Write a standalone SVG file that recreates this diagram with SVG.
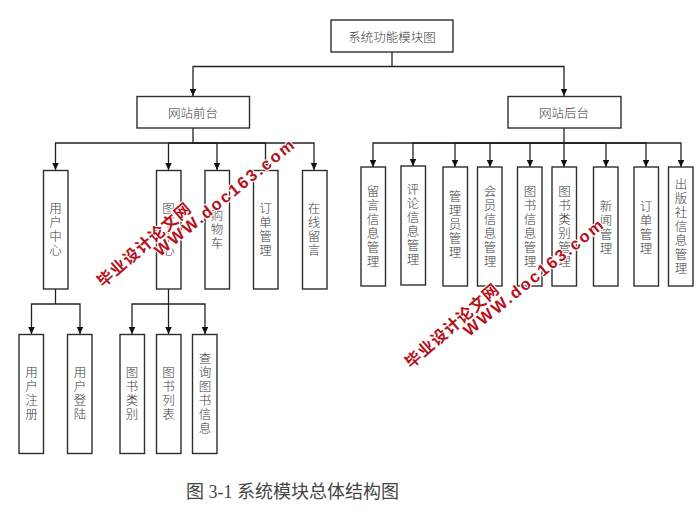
<svg xmlns="http://www.w3.org/2000/svg" width="700" height="512" viewBox="0 0 700 512">
<style>
.b{fill:#fff;stroke:#2e2e2e;stroke-width:1.4}
.t{font-family:"Noto Sans CJK SC","Noto Sans CJK JP",sans-serif;font-size:12.5px;fill:#3a3a3a;text-anchor:middle;font-weight:300}
.v{writing-mode:vertical-rl;letter-spacing:1.5px}
.h{dominant-baseline:central}
.c{fill:none;stroke:#222;stroke-width:1.3}
.cap{font-family:"Liberation Serif","Noto Sans CJK SC",serif;font-size:18px;fill:#444}
.w1,.w2{font-family:"Liberation Sans","Noto Sans CJK SC",sans-serif;font-weight:700;fill:#b3121c;stroke:#fff;stroke-width:2.2;paint-order:stroke;stroke-linejoin:round}
.w1{font-size:16px;letter-spacing:1px}
.w2{font-size:16.5px;letter-spacing:2.2px}
</style>
<defs>
<marker id="a" markerUnits="userSpaceOnUse" markerWidth="8" markerHeight="7" refX="7" refY="3.25" orient="auto"><path d="M0 0L7 3.25L0 6.500Z" fill="#111"/></marker>
</defs>
<g id="connectors">
<path class="c" d="M392 52V66.5"/>
<path class="c" marker-end="url(#a)" d="M392 66.5H193V96"/>
<path class="c" marker-end="url(#a)" d="M392 66.5H564V96"/>
<path class="c" d="M193 128V143"/>
<path class="c" marker-end="url(#a)" d="M193 143H55.5V170"/>
<path class="c" marker-end="url(#a)" d="M193 143H168.5V170"/>
<path class="c" marker-end="url(#a)" d="M193 143H217V170"/>
<path class="c" marker-end="url(#a)" d="M193 143H265.5V170"/>
<path class="c" marker-end="url(#a)" d="M193 143H314V170"/>
<path class="c" d="M55.5 289V304"/>
<path class="c" marker-end="url(#a)" d="M55.5 304H31.5V334"/>
<path class="c" marker-end="url(#a)" d="M55.5 304H80V334"/>
<path class="c" marker-end="url(#a)" d="M168.5 289V334"/>
<path class="c" marker-end="url(#a)" d="M168.5 304H132V334"/>
<path class="c" marker-end="url(#a)" d="M168.5 304H205V334"/>
<path class="c" d="M564 128V143"/>
<path class="c" marker-end="url(#a)" d="M564 143H373V167"/>
<path class="c" marker-end="url(#a)" d="M564 143H413V166"/>
<path class="c" marker-end="url(#a)" d="M564 143H455V167"/>
<path class="c" marker-end="url(#a)" d="M564 143H490V167"/>
<path class="c" marker-end="url(#a)" d="M564 143H530V167"/>
<path class="c" marker-end="url(#a)" d="M564 143V167"/>
<path class="c" marker-end="url(#a)" d="M564 143H606V167"/>
<path class="c" marker-end="url(#a)" d="M564 143H646V167"/>
<path class="c" marker-end="url(#a)" d="M564 143H681V167"/>
</g>
<g id="root"><rect class="b" x="331" y="20" width="122" height="32"/><text class="t h" x="392" y="36">系统功能模块图</text></g>
<g id="front"><rect class="b" x="137" y="96.5" width="112.500" height="31.500"/><text class="t h" x="193" y="112">网站前台</text></g>
<g id="back"><rect class="b" x="508" y="96.500" width="113" height="31.500"/><text class="t h" x="564" y="112">网站后台</text></g>
<g id="n1"><rect class="b" x="43.500" y="170.500" width="24.500" height="118.500"/><text class="t v" x="55.500" y="230">用户中心</text></g>
<g id="n2"><rect class="b" x="156.500" y="170.500" width="24.500" height="118.500"/><text class="t v" x="168.500" y="230">图书中心</text></g>
<g id="n3"><rect class="b" x="205" y="170.500" width="24.500" height="118.500"/><text class="t v" x="217" y="230">购物车</text></g>
<g id="n4"><rect class="b" x="253.500" y="170.500" width="24.500" height="118.500"/><text class="t v" x="265.500" y="230">订单管理</text></g>
<g id="n5"><rect class="b" x="302.500" y="170.500" width="24.500" height="118.500"/><text class="t v" x="314" y="230">在线留言</text></g>
<g id="n6"><rect class="b" x="19" y="334.500" width="24.500" height="119"/><text class="t v" x="31.500" y="394">用户注册</text></g>
<g id="n7"><rect class="b" x="67.500" y="334.500" width="24.500" height="119"/><text class="t v" x="80" y="394">用户登陆</text></g>
<g id="n8"><rect class="b" x="120" y="334.500" width="24.500" height="119"/><text class="t v" x="132" y="394">图书类别</text></g>
<g id="n9"><rect class="b" x="156.500" y="334.500" width="24.500" height="119"/><text class="t v" x="168.500" y="394">图书列表</text></g>
<g id="n10"><rect class="b" x="192.500" y="334.500" width="24.500" height="119"/><text class="t v" x="205" y="394">查询图书信息</text></g>
<g id="m1"><rect class="b" x="361" y="167" width="24.500" height="119"/><text class="t v" x="373" y="226.500">留言信息管理</text></g>
<g id="m2"><rect class="b" x="401" y="166" width="24.500" height="119"/><text class="t v" x="413" y="225">评论信息管理</text></g>
<g id="m3"><rect class="b" x="443" y="167" width="24.500" height="119"/><text class="t v" x="455" y="225">管理员管理</text></g>
<g id="m4"><rect class="b" x="477.500" y="167" width="24.500" height="119"/><text class="t v" x="490" y="226.500">会员信息管理</text></g>
<g id="m5"><rect class="b" x="517.500" y="167" width="24.500" height="119"/><text class="t v" x="530" y="226.500">图书信息管理</text></g>
<g id="m6"><rect class="b" x="552" y="167" width="24.500" height="119"/><text class="t v" x="564.500" y="226.500">图书类别管理</text></g>
<g id="m7"><rect class="b" x="593.500" y="167" width="24.500" height="119"/><text class="t v" x="606" y="228">新闻管理</text></g>
<g id="m8"><rect class="b" x="634" y="167" width="24.500" height="119"/><text class="t v" x="646" y="228">订单管理</text></g>
<g id="m9"><rect class="b" x="668.500" y="167" width="24.500" height="119"/><text class="t v" x="681" y="226.500">出版社信息管理</text></g>
<text class="cap" x="186" y="497.500">图 3-1 系统模块总体结构图</text>
<g id="watermark">
<text class="w1" transform="translate(103 288) rotate(-41)">毕业设计论文网</text>
<text class="w2" transform="translate(160 257) rotate(-39)">WWW.doc163.com</text>
<text class="w1" transform="translate(411 369) rotate(-41)">毕业设计论文网</text>
<text class="w2" transform="translate(469 337) rotate(-39)">WWW.doc163.com</text>
</g>
</svg>
